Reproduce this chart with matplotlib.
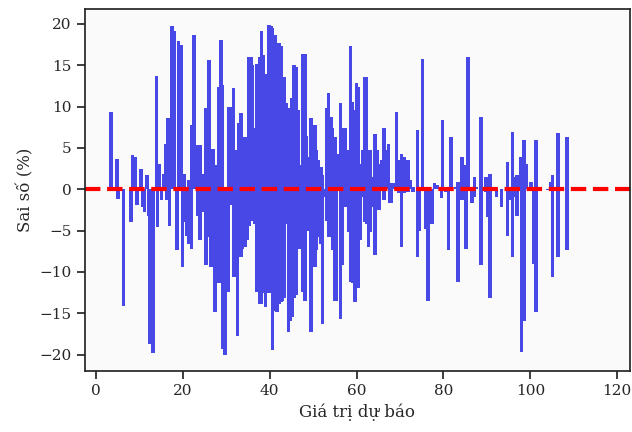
import matplotlib
matplotlib.use("Agg")
import matplotlib.pyplot as plt

# predicted value (x) and percent error (y)
pred = [3.5, 4.9, 5.1, 6.4, 8.1, 8.4, 9.0, 9.5, 10.4, 10.7, 11.2, 11.8, 12.1, 12.5, 13.1,
        13.9, 14.2, 14.7, 15.1, 15.6, 16.0, 16.4, 16.6, 17.0, 17.5, 18.0, 18.7, 19.0,
        19.7, 19.9, 20.4, 20.4, 20.9, 21.4, 21.4, 22.0, 22.0, 22.6, 23.0, 23.4, 23.4,
        24.0, 24.0, 24.5, 24.5, 25.0, 25.4, 25.4, 26.0, 26.0, 26.5, 27.0, 27.0, 27.4,
        27.9, 28.3, 28.3, 28.8, 28.8, 29.2, 29.2, 29.7, 30.1, 30.1, 30.5, 30.5, 30.9,
        30.9, 31.4, 31.7, 31.7, 32.2, 32.2, 32.6, 33.0, 33.0, 33.4, 33.4, 33.8, 33.8,
        34.3, 34.3, 34.8, 34.8, 35.2, 35.2, 35.7, 35.7, 36.1, 36.1, 36.6, 36.6, 37.1,
        37.1, 37.7, 37.7, 38.1, 38.1, 38.6, 38.6, 39.0, 39.0, 39.4, 39.8, 39.8, 40.3,
        40.3, 40.7, 40.7, 41.2, 41.2, 41.7, 41.7, 42.1, 42.1, 42.6, 42.6, 42.9, 42.9,
        43.3, 43.3, 43.8, 43.8, 44.3, 44.3, 44.7, 44.7, 45.2, 45.2, 45.6, 45.6, 46.1,
        46.1, 46.6, 46.6, 47.0, 47.0, 47.6, 47.6, 48.1, 48.1, 48.5, 48.5, 49.0, 49.0,
        49.5, 49.5, 49.9, 49.9, 50.4, 50.4, 50.8, 50.8, 51.3, 51.3, 51.8, 51.8, 52.2,
        52.2, 52.8, 53.1, 53.1, 53.6, 53.6, 54.1, 54.1, 54.5, 54.5, 55.0, 55.0,
        55.4, 55.4, 55.9, 56.3, 56.3, 56.8, 56.8, 57.3, 57.3, 57.7, 57.7, 58.2, 58.2,
        58.6, 58.6, 59.1, 59.1, 59.6, 59.6, 60.0, 60.0, 60.5, 60.5, 60.9, 60.9, 61.4,
        61.4, 61.8, 61.8, 62.3, 62.3, 62.8, 62.8, 63.2, 63.2, 63.7, 63.7, 64.3, 64.3,
        64.8, 64.8, 65.2, 65.2, 65.7, 66.3, 66.3, 66.8, 67.4, 67.7, 67.7, 68.1, 68.4,
        69.2, 69.7, 69.7, 70.4, 70.4, 70.9, 70.9, 71.4, 71.8, 71.8, 72.4,
        73.0, 73.0, 74.0, 74.0, 74.5, 75.2, 75.9, 76.5, 77.0, 77.5, 78.0, 78.5, 79.5,
        79.8, 80.5, 80.5, 81.2, 81.8, 82.9, 83.4, 83.4, 84.3, 84.3, 84.8, 84.8, 85.2,
        85.7, 86.1, 86.6, 87.1, 87.1, 87.5, 88.7, 88.7, 89.8, 89.8, 90.3, 90.3, 90.7,
        90.7, 92.2, 93.4, 94.7, 94.7,
        95.2, 95.9, 95.9, 96.4, 96.4, 96.9, 96.9, 97.8, 98.0, 98.5, 98.6, 99.0,
        100.2, 100.8, 101.3, 101.3, 104.1, 104.6, 105.1, 105.1, 106.4, 106.4,
        108.4, 108.4, 109.8]

err = [9.3, 3.7, -1.2, -14.1, -4.0, 4.2, 3.9, -1.9, 2.5, -2.2, -2.7, 1.7, -3.2, -18.7, -19.8,
       13.7, -4.6, 3.1, -1.3, 1.9, 5.5, -1.3, 8.6, -4.4, 19.7, 19.1, -7.4, 17.9,
       17.5, -9.4, 1.9, -4.0, -5.6, 1.1, -6.6, 7.8, -7.2, 18.7, 3.1, 5.3, -3.2,
       5.3, -6.2, 1.9, -2.7, -2.1, 9.8, -9.2, 15.6, -5.8, -9.4, 4.9, -9.4, -14.9,
       2.9, 12.4, -11.4, 18.1, -3.6, 12.6, -19.3, -20.0, 0.3, -1.5, 10.0, -12.4, 10.0,
       -1.9, 5.7, 12.2, -10.6, 4.7, -10.6, -17.7, 8.0, -8.0, 9.2, -8.2, 5.1, -7.2,
       6.3, -7.0, 6.3, -6.2, 16.0, -4.4, 16.0, -3.8, 15.0, -3.2, 7.4, -4.2, 15.2,
       -12.4, 16.0, -13.9, 19.1, -13.9, 16.2, -12.6, 14.0, -14.3, 10.0, 19.9, -12.6, 19.7,
       -6.2, 19.5, -19.5, 18.7, -14.7, 16.0, -14.9, 17.7, -13.9, 17.3, -13.7, 10.4, -13.5,
       13.6, -13.1, 10.4, -4.2, 9.8, -17.3, 9.6, -15.9, 11.0, -15.5, 15.0, -13.1, 14.8,
       -12.8, 9.6, -2.7, 2.9, -7.2, 16.4, -12.4, 16.4, -13.5, 6.5, -1.3, 3.9, -5.0,
       8.6, -17.3, 7.8, -7.4, 7.8, -9.4, 4.7, -7.4, 3.5, -5.8, 2.7, -6.6, 1.7,
       -16.3, -0.9, 9.8, -3.8, 11.6, -5.8, 8.8, -5.8, 7.4, -7.4, 6.3, -13.5,
       1.5, -13.5, 4.3, 10.4, -15.7, 7.4, -9.2, 7.4, -2.1, 4.3, -2.1, 4.7, -5.2,
       17.3, -11.2, 10.6, -11.4, 9.6, -13.7, 12.8, -11.4, 12.4, -12.0, 3.1, -6.2, 4.7,
       -0.9, 13.6, -4.0, 13.6, -4.2, 4.7, -7.0, 4.7, -5.2, 1.5, -2.1, 6.7, -8.0,
       4.7, -0.9, 3.1, -2.5, 3.5, 7.4, -1.3, 4.7, 5.5, 0.7, -1.7, -1.7, 0.7,
       9.4, 3.5, -0.5, 4.3, -7.0, 3.9, -0.5, 1.1, 3.5, -0.3, 1.1,
       0.3, -0.3, 7.2, -8.2, -5.0, 15.8, -4.8, -13.5, -4.2, -4.2, 0.7, 0.5, -1.1,
       8.4, 0.1, -0.3, -7.4, 6.3, 0.3, 0.9, -11.2, 3.9, -1.3, 2.9, -1.3, -7.2,
       16.0, 0.3, -1.7, 1.5, -0.9, 0.3, 8.7, -9.2, 1.5, -0.3, 0.7, -3.4, 1.9,
       -13.1, -0.9, -2.1, 3.3, -5.6,
       -1.3, 6.9, -8.2, 1.5, -0.9, 1.7, -3.2, 3.9, -19.7, 5.9, -15.9, 3.1,
       0.9, -9.0, 5.9, -14.9, -0.1, 0.9, 1.7, -10.6, 6.8, -8.2,
       6.3, -7.4, -0.25]

xticks = [0, 20, 40, 60, 80, 100, 120]
yticks = [-20, -15, -10, -5, 0, 5, 10, 15, 20]

plt.rcParams['font.family'] = ['DejaVu Serif']
plt.rcParams['axes.unicode_minus'] = True

fig = plt.figure(figsize=(6.32, 4.32), dpi=100)
ax = fig.add_axes([0.1345, 0.141, 0.862, 0.838])
ax.set_facecolor('#fafafa')

ax.bar(pred, err, width=0.8, color='#4848e6')
ax.axhline(0, color='red', linestyle='--', linewidth=3)

ax.set_xlim(-2.5, 122.9)
ax.set_ylim(-22.0, 21.8)
ax.set_xticks(xticks)
ax.set_yticks(yticks)
ax.tick_params(axis='both', labelsize=11, length=6, width=1.25, colors='0.15')
for s in ax.spines.values():
    s.set_linewidth(1.25)
    s.set_color('0.15')

ax.set_xlabel('Giá trị dự báo', fontsize=12, color='0.15')
ax.set_ylabel('Sai số (%)', fontsize=12, color='0.15')

fig.savefig('out.png', dpi=100)
